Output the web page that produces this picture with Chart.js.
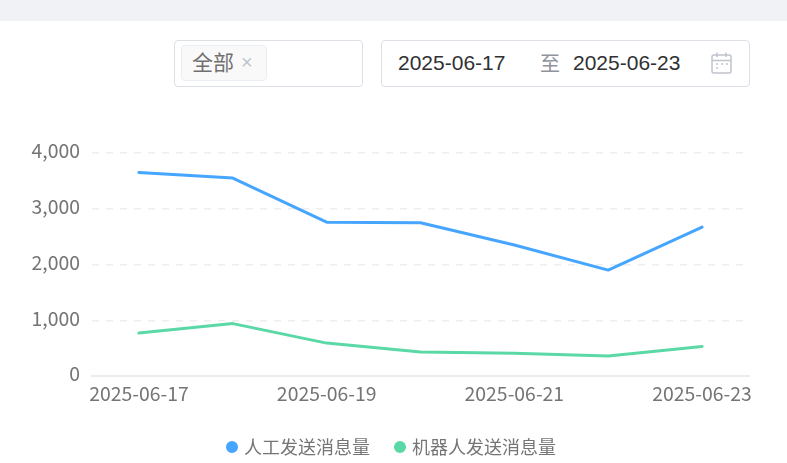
<!DOCTYPE html>
<html>
<head>
<meta charset="utf-8">
<script src="https://cdn.jsdelivr.net/npm/chart.js@4"></script>
<style>
html, body { margin: 0; padding: 0; background: #fff; overflow: hidden; }
body { width: 787px; height: 463px; position: relative; font-family: "Noto Sans CJK SC", "Noto Sans", sans-serif; }
.topbar { position: absolute; left: 0; top: 0; width: 787px; height: 21px; background: #f0f2f5; }
.box { position: absolute; box-sizing: border-box; border: 1px solid #dcdfe6; border-radius: 4px; background: #fff; top: 40px; height: 47px; }
.select { left: 174px; width: 189px; }
.range { left: 381px; width: 369px; }
.tag { position: absolute; left: 6px; top: 4px; width: 86px; height: 36px; box-sizing: border-box; border: 1px solid #ebeef5; border-radius: 4px; background: #f9f9f9; }
.t { position: absolute; white-space: nowrap; line-height: 24px; }
#wrap { position: absolute; left: 0; top: 0; width: 787px; height: 463px; }
</style>
</head>
<body>
<div class="topbar"></div>
<div class="box select">
  <div class="tag">
    <span class="t" style="left:10px;top:3px;font-size:21px;color:#707070">全部</span>
    <span class="t" style="left:59px;top:4px;font-size:20px;font-family:'Liberation Sans';color:#c0c4cc">×</span>
  </div>
</div>
<div class="box range">
  <span class="t" style="left:16px;top:10px;font-size:21px;font-family:'Liberation Sans';color:#303133">2025-06-17</span>
  <span class="t" style="left:158px;top:10px;font-size:20px;color:#909399">至</span>
  <span class="t" style="left:191px;top:10px;font-size:21px;font-family:'Liberation Sans';color:#303133">2025-06-23</span>
  <svg style="position:absolute;left:328px;top:10px" width="24" height="25" viewBox="0 0 24 25" fill="none" stroke="#c0c4cc" stroke-width="1.5">
    <rect x="2" y="4" width="19" height="18" rx="2"/>
    <path d="M2 9.5H21M7 1.5V6M16 1.5V6"/>
    <path d="M6 13H8M11 13H13M16 13H18M6 17H8" stroke-width="1.5"/>
  </svg>
</div>
<div id="wrap"><canvas id="chart"></canvas></div>
<script>
const categories = ['2025-06-17', '2025-06-18', '2025-06-19', '2025-06-20', '2025-06-21', '2025-06-22', '2025-06-23'];
const humanSent = [3650, 3550, 2760, 2750, 2350, 1900, 2670];
const robotSent = [770, 940, 590, 430, 410, 360, 530];
const yTicks = [0, 1000, 2000, 3000, 4000];

const tickColor = '#757575';
const fontFamily = '"Noto Sans CJK SC", "Noto Sans", sans-serif';

function lineSeries(label, data, color) {
    return {
        label: label,
        data: data,
        borderColor: color,
        backgroundColor: color,
        borderWidth: 3,
        tension: 0,
        pointRadius: 0,
        pointHoverRadius: 0,
        borderCapStyle: 'round',
        borderJoinStyle: 'round',
    };
}

// right padding pulls the legend off centre, put it back
const centerLegend = {
    id: 'centerLegend',
    afterLayout(chart) {
        chart.legend.left += 18;
        chart.legend.right += 18;
    }
};

new Chart(document.getElementById('chart'), {
    type: 'line',
    data: {
        labels: categories,
        datasets: [
            lineSeries('人工发送消息量', humanSent, '#46a6ff'),
            lineSeries('机器人发送消息量', robotSent, '#5ad8a6'),
        ]
    },
    plugins: [centerLegend],
    options: {
        responsive: true,
        maintainAspectRatio: false,
        animation: false,
        // negative bottom pushes the legend down
        layout: { padding: { top: 153, right: 38, bottom: -3, left: 0 } },
        plugins: {
            tooltip: { enabled: false },
            legend: {
                position: 'bottom',
                labels: {
                    usePointStyle: true,
                    pointStyle: 'circle',
                    boxWidth: 6,
                    boxHeight: 6.4,
                    padding: 27,
                    color: tickColor,
                    font: { family: fontFamily, size: 18 },
                }
            }
        },
        scales: {
            x: {
                offset: true,
                grid: { display: false, drawTicks: false },
                border: { color: '#ececec', width: 2 },
                afterFit(scale) { scale.height = 35; },
                ticks: {
                    autoSkip: false,
                    maxRotation: 0,
                    padding: 6,
                    color: tickColor,
                    font: { family: fontFamily, size: 19.4 },
                    callback(value, index) {
                        return index % 2 === 0 ? categories[index] : '';
                    }
                }
            },
            y: {
                min: 0,
                max: 4000,
                afterFit(scale) { scale.width = 92; },
                afterBuildTicks(scale) { scale.ticks = yTicks.map(v => ({ value: v })); },
                border: { display: false, dash: [7, 7] },
                grid: {
                    color: ctx => ctx.tick.value === 0 ? 'rgba(0,0,0,0)' : '#eeeeee',
                    lineWidth: 1.5,
                    drawTicks: false,
                },
                ticks: {
                    padding: 12,
                    labelOffset: -2,
                    color: tickColor,
                    font: { family: fontFamily, size: 19.4 },
                    callback: value => value.toLocaleString('en-US'),
                }
            }
        }
    }
});
</script>
</body>
</html>
